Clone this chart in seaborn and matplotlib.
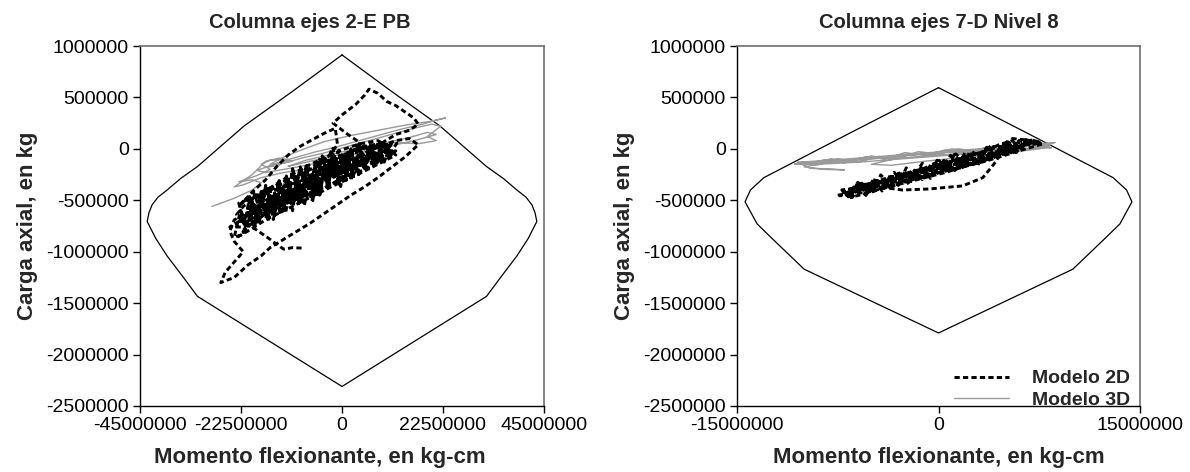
import matplotlib
matplotlib.use("Agg")
import matplotlib.pyplot as plt
import numpy as np
import seaborn as sns

sns.set_style("ticks")
plt.rcParams['font.family'] = ['Liberation Sans', 'DejaVu Sans']

# moments in millions of kg-cm, axial loads in thousands of kg

# ---- Columna ejes 2-E PB ----
env_a_m = [0, 11, 21.8, 32.2, 36, 38.9, 41, 42.3, 43, 43.4, 41.5, 38.9, 35.5, 32.2, 0,
           -32.2, -35.5, -38.9, -41.5, -43.4, -43, -42.3, -41, -38.9, -36, -32.2, -21.8, -11, 0]
env_a_p = [913, 560, 223, -172, -290, -398, -470, -544, -620, -706, -870, -1045, -1240, -1434, -2310,
           -1434, -1240, -1045, -870, -706, -620, -544, -470, -398, -290, -172, 223, 560, 913]

m2d_a = [-9, -11, -13, -14.5, -16, -18, -20, -22, -23.5, -22, -19, -15, -11, -7, -3, 1, 5, 9, 11, 9,
         5, 0, -5, -10, -15, -20, -23, -21, -17, -12, -8, -4, 0, 3, 6, 10, 12, 8, 3, -2,
         -7, -12, -17, -21, -23, -20, -16, -13, -9, -5, -1, 2, 4, 1, -2, 0, 3, 5, 6, 8,
         10, 12, 14, 16, 17, 15, 12, 9, 6, 3, -1, -6, -11, -16, -20, -24, -25, -24, -22, -24,
         -26, -27, -24, -21, -18, -16, -13, -10, -7, -4, -1, 2, 5, 8, 11, 14, 17, 15, 12, 8,
         4, 0, -4, -8, -12, -16, -19, -21, -18, -14, -10, -6, -3, -1, -1.5, -4, -7, -9.5, -12, -14.5,
         -17, -20, -23, -23, -20, -16, -12, -8, -4, 0, 4, 8, 10, 7, 3, -2, -7, -12, -17,
         -22, -25, -22, -18, -14, -10, -6, -2, 2, 6, 9, 12, 8, 4, 0, -4, -9, -14, -18, -22,
         -20, -15, -10, -5, 0, 5, 9, 11, 7, 2, -3, -8, -13, -18, -21, -17, -12, -7, -2, 3,
         # dense core passes
         -23, -21.5, -20, -18.5, -17, -15.5, -14, -12.5, -11, -9.5, -8, -6.5, -5, -3.5, -2, -0.5, 1, 2.5, 4, 5.5,
         7, 8.5, 10, 11,
         10.5, 9, 7.8, 6.5, 5, 3.8, 2.5, 1, -0.3, -1.6, -3, -4.4, -5.7, -7, -8.4, -9.8, -11, -12.4, -13.8, -15,
         -16.5, -18, -19.3, -20.6, -22,
         -24, -22.6, -21, -19.7, -18.2, -16.8, -15.3, -13.9, -12.3, -11, -9.6, -8.1, -6.7, -5.2, -3.8, -2.4, -0.9, 0.6, 2, 3.5,
         5, 6.4, 7.9, 9.3, 10.8, 12.2,
         11, 9.4, 8, 6.6, 5.1, 3.7, 2.2, 0.8, -0.7, -2.1, -3.6, -5, -6.5, -7.9, -9.3, -10.8, -12.2, -13.7, -15.1, -16.6,
         -18, -19.5, -21,
         -20, -19, -18, -17, -16, -15, -14, -13, -12, -11, -10, -9, -8, -7, -6, -5, -4, -3, -2, -1,
         0, 1, 2, 3, 4, 5, 6,
         7, 6, 5, 4, 3, 2, 1, 0, -1, -2, -3, -4, -5, -6, -7, -8, -9, -10, -11, -12,
         -13, -14, -15, -16, -17]
p2d_a = [-965, -960, -975, -930, -880, -820, -760, -700, -640, -560, -470, -380, -290, -200, -110, -40, 20, 60, 20, -60,
         -140, -230, -330, -430, -540, -650, -720, -620, -500, -380, -280, -180, -80, 0, 40, 10, -60, -150, -260, -360,
         -470, -580, -690, -800, -850, -720, -600, -480, -360, -250, -140, -50, 60, 150, 250, 330, 430, 520, 580, 540,
         460, 420, 360, 300, 240, 180, 140, 60, -20, -120, -220, -320, -420, -520, -600, -690, -800, -900, -1000, -1100,
         -1200, -1300, -1250, -1130, -1040, -960, -880, -800, -720, -630, -540, -450, -370, -280, -180, -80, 40, 100, 80, 20,
         -60, -150, -240, -330, -420, -500, -560, -500, -420, -340, -250, -160, -70, 40, 200, 150, 80, 20, -60, -170,
         -300, -420, -560, -540, -480, -380, -270, -170, -90, -10, 50, 80, 30, -50, -140, -240, -340, -450, -560,
         -680, -760, -760, -660, -560, -460, -370, -280, -190, -100, -30, -20, -110, -200, -290, -380, -470, -560, -640, -720,
         -600, -500, -400, -300, -200, -100, -20, -60, -160, -260, -350, -440, -530, -620, -700, -560, -440, -330, -220, -120,
         # dense core passes
         -526, -793, -510, -737, -354, -561, -318, -615, -202, -489, -276, -503, -100, -327, 6, -351, -54, -270, 14, -152,
         32, -114, 40, -14,
         -82, 44, -145, 14, -200, 41, -270, -84, -367, -75, -286, -67, -445, -234, -555, -266, -452, -263, -594, -430,
         -703, -416, -675, -463, -834,
         -858, -597, -752, -423, -600, -380, -687, -386, -541, -192, -531, -298, -507, -134, -314, -13, -310, -50, -308, 26,
         -120, 32, -134, 59, -47, 55,
         56, -130, 58, -134, 52, -251, -35, -257, -15, -256, -99, -470, -243, -484, -175, -488, -308, -641, -422, -675,
         -446, -769, -582,
         -570, -668, -436, -574, -452, -620, -368, -466, -284, -512, -330, -508, -166, -374, -182, -410, -228, -396, -54, -222,
         -70, -264, 2, -182, -36, -180, 16,
         -118, -24, -190, -6, -172, -8, -304, -140, -272, -34, -356, -188, -450, -162, -344, -186, -468, -300, -602, -384,
         -566, -308, -550, -402, -684]

m3d_a = [-29, -24, -20, -18, -20, -23, -19, -16, -18, -16, -12, -14, -17, -14, -10, -6, -2, 3, 8, 13,
         18, 21, 23, 20, 14, 8, 2, -4, -9, -13, -16, -13, -9, -4, 1, 6, 11, 16, 20, 22,
         19, 21, 17, 12, 7, 2, -3, -8, -12, -10, -5, 0, 5, 10, 15, 19, 21, 17, 12, 6,
         -8, -13, -17, -19, -15, -11, -14, -17, -20, -24, -22, -18, -13, -8]
p3d_a = [-560, -480, -400, -330, -300, -320, -260, -200, -150, -110, -100, -160, -180, -130, -80, -30, 10, 70, 130, 190,
         240, 280, 300, 270, 230, 180, 130, 70, -10, -80, -150, -140, -90, -40, 20, 80, 140, 200, 240, 220,
         120, 80, 50, 60, 40, -10, -60, -110, -170, -150, -100, -50, 0, 60, 110, 160, 140, 90, 40, -20,
         -160, -200, -230, -210, -150, -120, -90, -120, -250, -370, -350, -280, -230, -200]

# ---- Columna ejes 7-D Nivel 8 ----
env_b_m = [0, 6.5, 13, 14, 14.4, 13.5, 12.4, 10, 0, -10, -12.4, -13.5, -14.4, -14, -13, -6.5, 0]
env_b_p = [595, 160, -280, -400, -515, -730, -870, -1170, -1790, -1170, -870, -730, -515, -400, -280, 160, 595]

m2d_b = [-7.5, -6.5, -5.5, -4.5, -3, -1.5, 0, 1.5, 3, 4.5, 5.5, 6.5, 7.5, 6, 4.5, 3, 1.5, 0, -1.5, -3,
         -4.5, -6, -7, -6.5, -5, -3.5, -2, -0.5, 1, 2.5, 4, 5, 6, 5.5, 4.5, 3.5, 2, 0.5, -1, -2.5,
         -4, -5.5, -6.5, -5, -3.5, -2, -0.5, 1, 2.5, 4, 5.5, 6.8, 7.8, 6.5, 5, 3.5, 2, 0.5, -1, -2.5,
         -4, -5.5, -7.1, -5.6, -4.4, -2.7, -0.7, 1.8, 3.3, 4.3, 4.8, 5.5, 6.3, 6.9, 5.2, 3.8, 2.2, 0.6, -1.2, -3,
         -4.8, -6.2, -5.2, -3.6, -1.8, 0, 1.8, 3.4, 4.9, 6.2, 5.4, 4.2, 2.8, 1.2, -0.4, -2, -3.6, -5.4,
         # dense core passes
         -7.2, -6.6, -6, -5.4, -4.8, -4.2, -3.6, -3, -2.4, -1.8, -1.2, -0.6, 0, 0.6, 1.2, 1.8, 2.4, 3, 3.6, 4.2,
         4.8, 5.4, 6, 6.6,
         7.2, 6.5, 5.8, 5.1, 4.4, 3.7, 3, 2.3, 1.6, 0.9, 0.2, -0.5, -1.2, -1.9, -2.6, -3.3, -4, -4.7, -5.4, -6.1,
         -6.8,
         -6.4, -5.7, -5, -4.3, -3.6, -2.9, -2.2, -1.5, -0.8, -0.1, 0.6, 1.3, 2, 2.7, 3.4, 4.1, 4.8, 5.5, 6.2, 6.9,
         7.6,
         6.8, 6, 5.2, 4.4, 3.6, 2.8, 2, 1.2, 0.4, -0.4, -1.2, -2, -2.8, -3.6, -4.4, -5.2, -6, -6.8, -7.4]
p2d_b = [-450, -430, -400, -380, -330, -280, -230, -180, -120, -60, -10, 40, 70, 60, 20, -40, -100, -160, -220, -280,
         -330, -390, -430, -470, -420, -360, -300, -250, -200, -150, -90, -40, 10, 80, 40, -20, -80, -140, -190, -240,
         -290, -350, -400, -380, -320, -250, -200, -150, -100, -40, 20, 60, 50, 0, -60, -120, -170, -230, -280, -330,
         -380, -430, -420, -340, -370, -400, -390, -360, -280, -120, 10, 100, 90, 60, -20, -90, -150, -200, -260, -310,
         -360, -410, -350, -300, -250, -190, -130, -70, -20, 30, -10, -60, -110, -160, -210, -260, -310, -370,
         # dense core passes
         -399, -477, -325, -403, -291, -410, -258, -356, -184, -282, -160, -288, -106, -204, -52, -181, -49, -147, 15, -63,
         49, -39, 83, 45,
         47, 91, -35, 70, -66, 29, -147, -52, -178, -63, -199, -134, -300, -196, -341, -227, -362, -288, -453, -359,
         -474,
         -470, -334, -429, -253, -348, -222, -346, -191, -265, -110, -204, -49, -143, -18, -122, 23, -61, 65, 20, 86,
         61,
         92, -7, 64, -86, 15, -114, -33, -212, -112, -251, -140, -289, -218, -378, -297, -416, -325, -454, -456]

m3d_b = [-10.7, -8, -5, -2, 1, 4, 7, 8.5, 7, 4, 1, -2, -5, -8, -10.5, -10, -9.5, -8, -7, -8.5,
         -10, -9, -6, -3, 0, 3, 6, 8, 8.4, 6, 3, 0, -3, -5, -3.5, -1, 2, 5, 7.5, 8.3,
         6, 3, 0, -3, -6, -9,
         -10.5, -9, -7.5, -6, -4.5, -3, -1.5, 0, 1.5, 3, 4.5, 6, 7.5, 8.5,
         8, 7, 5.5, 4, 2.5, 1, -0.5, -2, -3.5, -5, -6.5, -8, -9.5, -10.7,
         -10, -8.5, -7, -5.5, -4, -2.5, -1, 0.5, 2, 3.5, 5, 6.5, 8, 8.7]
p3d_b = [-150, -130, -100, -60, -30, 0, 30, 55, 40, 10, -20, -50, -80, -110, -130, -160, -190, -195, -205, -200,
         -175, -150, -130, -100, -70, -40, -10, 20, 10, 0, -30, -60, -90, -150, -160, -120, -80, -40, 0, 30,
         20, -10, -40, -70, -100, -130,
         -133, -157, -96, -130, -74, -88, -27, -51, 0, -29, 27, 8, 54, 55,
         30, 54, -2, 27, -24, 0, -61, -47, -98, -69, -120, -96, -147, -145,
         -153, -106, -135, -79, -98, -37, -61, -10, -39, 12, -2, 49, 45, 62]

y_ticks = [-2500000, -2000000, -1500000, -1000000, -500000, 0, 500000, 1000000]
x_ticks_a = [-45000000, -22500000, 0, 22500000, 45000000]
x_ticks_b = [-15000000, 0, 15000000]

fig = plt.figure(figsize=(11.9, 4.72), dpi=100)
ax_a = fig.add_axes([140 / 1190, 66 / 472, 404 / 1190, 360 / 472])
ax_b = fig.add_axes([737 / 1190, 66 / 472, 403 / 1190, 360 / 472])

dash = (0, (1.8, 1.1))
panels = [
    (ax_a, env_a_m, env_a_p, m2d_a, p2d_a, m3d_a, p3d_a, x_ticks_a, "Columna ejes 2-E PB", 0.42, 0.445),
    (ax_b, env_b_m, env_b_p, m2d_b, p2d_b, m3d_b, p3d_b, x_ticks_b, "Columna ejes 7-D Nivel 8", 0.5, 0.5),
]

for ax, em, ep, m2, p2, m3, p3, xt, title, tx, lx in panels:
    sns.lineplot(x=np.array(em) * 1e6, y=np.array(ep) * 1e3, sort=False, estimator=None,
                 color="black", linewidth=0.9, ax=ax)
    sns.lineplot(x=np.array(m3) * 1e6, y=np.array(p3) * 1e3, sort=False, estimator=None,
                 color="#9a9a9a", linewidth=1.0, ax=ax, label="Modelo 3D")
    sns.lineplot(x=np.array(m2) * 1e6, y=np.array(p2) * 1e3, sort=False, estimator=None,
                 color="black", linewidth=2.1, linestyle=dash, ax=ax, label="Modelo 2D")
    ax.set_xlim(xt[0], xt[-1])
    ax.set_ylim(-2500000, 1000000)
    ax.set_xticks(xt)
    ax.set_xticklabels([str(v) for v in xt])
    ax.set_yticks(y_ticks)
    ax.set_yticklabels([str(v) for v in y_ticks])
    ax.tick_params(direction="out", length=5, width=1, labelsize=14, colors="black", pad=3)
    for s in ["left", "bottom"]:
        ax.spines[s].set_color("black")
        ax.spines[s].set_linewidth(1)
    for s in ["top", "right"]:
        ax.spines[s].set_visible(True)
        ax.spines[s].set_color("#6e6e6e")
        ax.spines[s].set_linewidth(1.2)
    ax.set_title(title, fontsize=14.5, fontweight="bold", pad=13, x=tx)
    ax.set_xlabel("Momento flexionante, en kg-cm", fontsize=16, fontweight="bold", labelpad=4)
    ax.xaxis.set_label_coords(lx, -0.115)
    ax.set_ylabel("Carga axial, en kg", fontsize=16, fontweight="bold", labelpad=6)
    ax.get_legend().remove()

h, l = ax_b.get_legend_handles_labels()
order = [l.index("Modelo 2D"), l.index("Modelo 3D")]
ax_b.legend([h[i] for i in order], [l[i] for i in order], loc="lower right", frameon=False,
            prop={"weight": "bold", "size": 14}, handlelength=2.8,
            bbox_to_anchor=(1.0, -0.035), borderaxespad=0.1, labelspacing=0.2, handletextpad=1.2)

fig.savefig("out.png", dpi=100)
